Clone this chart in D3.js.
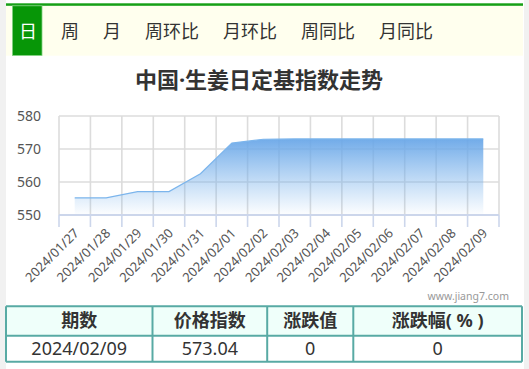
<!DOCTYPE html>
<html>
<head>
<meta charset="utf-8">
<script src="https://cdn.jsdelivr.net/npm/d3@7"></script>
<style>
  html, body { margin: 0; padding: 0; background: #f1f1f1; }
  svg { display: block; }
  text { font-family: 'Noto Sans', 'Noto Sans CJK SC', sans-serif; }
  .cjk { font-family: 'Noto Sans CJK SC', 'Noto Sans', sans-serif; }
</style>
</head>
<body>
<div id="chart"></div>
<script>
const tabs = ['日', '周', '月', '周环比', '月环比', '周同比', '月同比']
const title = '中国·生姜日定基指数走势'
const dates = [
  '2024/01/27', '2024/01/28', '2024/01/29', '2024/01/30', '2024/01/31',
  '2024/02/01', '2024/02/02', '2024/02/03', '2024/02/04', '2024/02/05',
  '2024/02/06', '2024/02/07', '2024/02/08', '2024/02/09'
]
const values = [
  555.2, 555.2, 557.1, 557.1, 562.5, 571.8, 572.95,
  573.04, 573.04, 573.04, 573.04, 573.04, 573.04, 573.04
]
const yTicks = [550, 560, 570, 580]
const tableHead = ['期数', '价格指数', '涨跌值', '涨跌幅( % )']
const tableRow = ['2024/02/09', '573.04', '0', '0']

const W = 529, H = 369
const svg = d3.select('#chart').append('svg')
  .attr('width', W).attr('height', H)

// page panel
svg.append('rect').attr('width', W).attr('height', H).attr('fill', '#f1f1f1')
svg.append('rect').attr('x', 6).attr('width', 518).attr('height', H).attr('fill', '#fff')

// tab bar
svg.append('rect').attr('x', 6).attr('y', 5.7).attr('width', 517).attr('height', 50)
  .attr('fill', '#ffffee')
svg.append('rect').attr('x', 6).attr('y', 3.3).attr('width', 517).attr('height', 2.5)
  .attr('fill', '#16a016')
svg.append('rect').attr('x', 12.5).attr('y', 5.8).attr('width', 29.5).attr('height', 49.6)
  .attr('fill', '#079607').attr('stroke', '#7fd07f').attr('stroke-width', 0.8)

const tabG = svg.append('g').attr('class', 'cjk')
let tx = 19
tabs.forEach((t, i) => {
  const el = tabG.append('text')
    .attr('x', tx).attr('y', 32)
    .attr('dy', '0.36em')
    .attr('font-size', 18)
    .attr('fill', i === 0 ? '#fff' : '#333')
    .text(t)
  tx += el.node().getComputedTextLength() + 24
})

// title (latin font first so the middle dot stays narrow)
svg.append('text')
  .attr('x', 259).attr('y', 80).attr('dy', '0.36em')
  .attr('text-anchor', 'middle')
  .attr('font-size', 22).attr('font-weight', 'bold')
  .attr('fill', '#333')
  .text(title)

// chart
const x = d3.scaleBand().domain(dates).range([59, 499])
const y = d3.scaleLinear().domain([550, 580]).range([215, 116])

const defs = svg.append('defs')
const grad = defs.append('linearGradient').attr('id', 'fillGrad')
  .attr('x1', 0).attr('y1', 0).attr('x2', 0).attr('y2', 1)
grad.append('stop').attr('offset', '0%').attr('stop-color', '#6aa7e8').attr('stop-opacity', 0.95)
grad.append('stop').attr('offset', '100%').attr('stop-color', '#7cb5ec').attr('stop-opacity', 0.02)

// grid
const grid = svg.append('g')
grid.selectAll('line.h')
  .data(yTicks.filter(d => d !== 550))
  .join('line')
  .attr('x1', 59).attr('x2', 499)
  .attr('y1', d => y(d)).attr('y2', d => y(d))
  .attr('stroke', '#dcdcdc').attr('stroke-width', 1.6)
const bounds = dates.map(d => x(d)).concat([x.range()[1]])
grid.selectAll('line.v')
  .data(bounds)
  .join('line')
  .attr('x1', d => d).attr('x2', d => d)
  .attr('y1', 116).attr('y2', 215)
  .attr('stroke', '#dcdcdc').attr('stroke-width', 1.6)

// area
const pts = dates.map((d, i) => ({ d, v: values[i] }))
const area = d3.area()
  .x(p => x(p.d) + x.bandwidth() / 2)
  .y0(y(550))
  .y1(p => y(p.v))
svg.append('path').datum(pts)
  .attr('d', area)
  .attr('fill', 'url(#fillGrad)')
svg.append('path').datum(pts)
  .attr('d', d3.line().x(p => x(p.d) + x.bandwidth() / 2).y(p => y(p.v)))
  .attr('fill', 'none').attr('stroke', '#7cb5ec').attr('stroke-width', 1.2)

// x axis line and ticks
svg.append('line')
  .attr('x1', 59).attr('x2', 499).attr('y1', y(550)).attr('y2', y(550))
  .attr('stroke', '#ccd6eb').attr('stroke-width', 2)
svg.append('g').selectAll('line')
  .data(bounds)
  .join('line')
  .attr('x1', d => d).attr('x2', d => d)
  .attr('y1', 215).attr('y2', 227)
  .attr('stroke', '#ccd6eb').attr('stroke-width', 1.6)

// y labels
svg.append('g').selectAll('text')
  .data(yTicks)
  .join('text')
  .attr('x', 41).attr('y', d => y(d)).attr('dy', '0.35em')
  .attr('text-anchor', 'end')
  .attr('font-size', 14).attr('fill', '#555')
  .text(d => d)

// x labels
svg.append('g').selectAll('text')
  .data(dates)
  .join('text')
  .attr('transform', d => `translate(${x(d) + x.bandwidth() / 2 + 5},${234}) rotate(-45)`)
  .attr('text-anchor', 'end')
  .attr('font-size', 13).attr('fill', '#555')
  .text(d => d)

// watermark
svg.append('text')
  .attr('x', 509).attr('y', 300)
  .attr('text-anchor', 'end')
  .attr('font-size', 10.5).attr('fill', '#999')
  .text('www.jiang7.com')

// table
const colX = [6, 152.5, 267.2, 353.3, 522]
const rowY = [306.3, 335.7, 361.7]
const tbl = svg.append('g').attr('class', 'cjk')
tbl.append('rect')
  .attr('x', colX[0]).attr('y', rowY[0])
  .attr('width', colX[4] - colX[0]).attr('height', rowY[1] - rowY[0])
  .attr('fill', '#effffa')
tbl.selectAll('text.h')
  .data(tableHead)
  .join('text')
  .attr('x', (d, i) => (colX[i] + colX[i + 1]) / 2)
  .attr('y', (rowY[0] + rowY[1]) / 2).attr('dy', '0.36em')
  .attr('text-anchor', 'middle')
  .attr('font-size', 18).attr('font-weight', 'bold').attr('fill', '#333')
  .text(d => d)
tbl.selectAll('text.b')
  .data(tableRow)
  .join('text')
  .attr('x', (d, i) => (colX[i] + colX[i + 1]) / 2)
  .attr('y', (rowY[1] + rowY[2]) / 2).attr('dy', '0.36em')
  .attr('text-anchor', 'middle')
  .attr('font-size', 18).attr('fill', '#333')
  .style('font-family', "'Noto Sans', sans-serif")
  .text(d => d)
tbl.selectAll('line.row')
  .data(rowY)
  .join('line')
  .attr('x1', colX[0]).attr('x2', colX[4])
  .attr('y1', d => d).attr('y2', d => d)
  .attr('stroke', '#58aaa4').attr('stroke-width', 2)
tbl.selectAll('line.col')
  .data(colX)
  .join('line')
  .attr('x1', d => d).attr('x2', d => d)
  .attr('y1', rowY[0]).attr('y2', rowY[2])
  .attr('stroke', '#58aaa4').attr('stroke-width', 2)
</script>
</body>
</html>
